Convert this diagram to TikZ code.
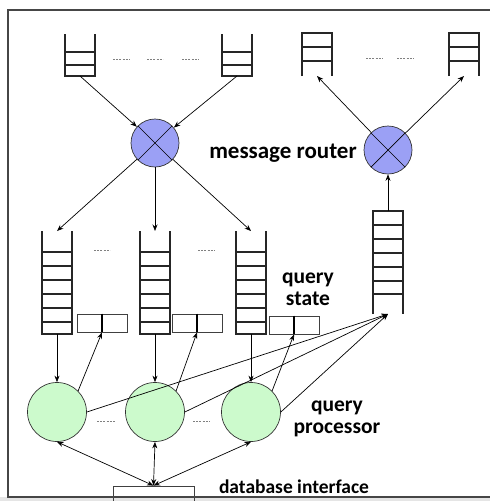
\documentclass[tikz,border=0pt]{standalone}
\usepackage{fontspec}
\setmainfont{Carlito}
\usetikzlibrary{arrows.meta,calc}
\definecolor{routerblue}{RGB}{155,160,245}
\definecolor{procgreen}{RGB}{204,250,204}
\definecolor{framegray}{RGB}{70,70,70}
\newcommand\QueueOT[5]{%
  \node[queue, minimum height={#4-#3}] (#1) at ({#2+15},{(#3+#4)/2}) {};
  \draw[qline] (#2,#3) -- (#2,#4) -- ({#2+30},#4) -- ({#2+30},#3);
  \foreach \yy in {#5} {\draw[qline] (#2,\yy) -- ({#2+30},\yy);}
}
\newcommand\QueueCT[5]{%
  \node[queue, minimum height={#4-#3}] (#1) at ({#2+15},{(#3+#4)/2}) {};
  \draw[qline] (#2,#4) -- (#2,#3) -- ({#2+30},#3) -- ({#2+30},#4);
  \foreach \yy in {#5} {\draw[qline] (#2,\yy) -- ({#2+30},\yy);}
}
\begin{document}
\begin{tikzpicture}[x=1pt,y=-1pt,
  queue/.style={minimum width=30pt, inner sep=0pt, outer sep=0pt},
  qline/.style={line width=1.1pt, black!85},
  router/.style={circle, draw=black!80, fill=routerblue, minimum size=48pt, inner sep=0pt, line width=0.7pt},
  proc/.style={circle, draw=black!80, fill=procgreen, minimum size=59pt, inner sep=0pt, line width=0.7pt},
  conn/.style={-{Stealth[length=6.5pt,width=5pt]}, line width=0.7pt},
  dconn/.style={{Stealth[length=6.5pt,width=5pt]}-{Stealth[length=6.5pt,width=5pt]}, line width=0.7pt},
  dots/.style={black!50, dash pattern=on 2pt off 1.2pt, line width=0.6pt},
  lbl/.style={font=\bfseries\fontsize{23}{22}\selectfont, align=center, inner sep=0pt},
  lbls/.style={font=\bfseries\fontsize{21.5}{22}\selectfont, align=center, inner sep=0pt},
  lbldb/.style={font=\bfseries\fontsize{19.5}{22}\selectfont, align=center, inner sep=0pt},
  sbox/.style={draw=black!75, minimum width=50pt, minimum height=18pt, inner sep=0pt, line width=0.8pt}]

\useasboundingbox (0,0) rectangle (490,501);
\fill[black!10] (0,497) rectangle (490,501);

% queues
\QueueOT{qa}{65}{34}{76}{52,65}
\QueueOT{qb}{222}{34}{76}{52,65}
\QueueCT{qc}{302}{33}{76}{47,61}
\QueueCT{qd}{449}{33}{76}{47,61}
\QueueOT{m1}{42}{231}{334}{252,266,280,294,308,322}
\QueueOT{m2}{140}{231}{334}{252,266,280,294,308,322}
\QueueOT{m3}{236}{231}{334}{252,266,280,294,308,322}
\QueueCT{tq}{373}{211}{314}{225,239,253,267,281,294}

% routers
\node[router] (r1) at (155,143) {};
\draw[line width=0.7pt] (r1.45) -- (r1.225) (r1.135) -- (r1.315);
\node[router] (r2) at (388,150) {};
\draw[line width=0.7pt] (r2.45) -- (r2.225) (r2.135) -- (r2.315);

% query state boxes
\node[sbox] (s1) at (102,323) {};
\node[sbox] (s2) at (197,323) {};
\node[sbox] (s3) at (294,325) {};
\foreach \s in {s1,s2,s3} {\draw[line width=1.6pt] (\s.north) -- (\s.south);}

% processors
\node[proc] (p1) at (57,412) {};
\node[proc] (p2) at (155,412) {};
\node[proc] (p3) at (251,412) {};

% database interface box
\node[draw=black!75, minimum width=81pt, minimum height=22pt, inner sep=0pt, line width=0.8pt] (db) at (153.5,497) {};

% frame
\draw[framegray, line width=1.2pt] (490,10) -- (8,10) -- (8,497) -- (490,497);

% connectors
\draw[conn] (qa.south) -- (r1);
\draw[conn] (qb.south) -- (r1);
\draw[conn] (r1) -- (m1.north);
\draw[conn] (r1) -- (m2.north);
\draw[conn] (r1) -- (m3.north);
\draw[conn] (r2) -- (qc.south);
\draw[conn] (r2) -- (qd.south);
\draw[conn] (tq.north) -- (r2);
\draw[conn] (m1.south) -- (p1);
\draw[conn] (m2.south) -- (p2);
\draw[conn] (m3.south) -- (p3);
\draw[conn] (p1.45) -- (s1.south);
\draw[conn] (p2.45) -- (s2.south);
\draw[conn] (p3.45) -- (s3.south);
\draw[conn] (p1.east) -- (tq.south);
\draw[conn] (p2.east) -- (tq.south);
\draw[conn] (p3.east) -- (tq.south);
\draw[dconn] (p1.south) -- (db.north);
\draw[dconn] (p2.south) -- (db.north);
\draw[dconn] (p3.south) -- (db.north);

% dots
\draw[dots] (113,59) -- (130,59) (147,59) -- (163,59) (182,59) -- (199,59);
\draw[dots] (366,58) -- (383,58) (397,58) -- (414,58);
\draw[dots] (94,250) -- (110,250) (198,250) -- (215,250);
\draw[dots] (97,421) -- (115,421) (193,421) -- (210,421);

% labels
\node[lbl] (lmr) at (283,153) {message router};
\node[lbls] (lqs) at (308,289) {query\\state};
\node[lbls] (lqp) at (337,419) {query\\processor};
\node[lbldb] (ldb) at (294,487) {database interface};
\end{tikzpicture}
\end{document}
